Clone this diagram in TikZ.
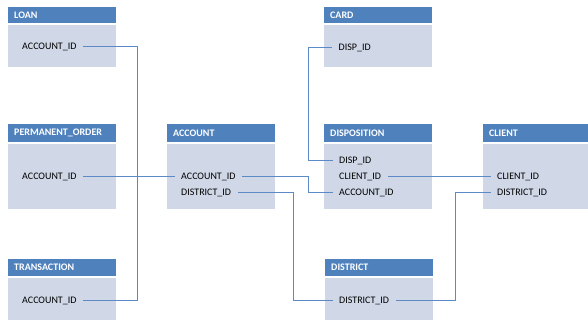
\documentclass[tikz,border=0pt]{standalone}
\usepackage{fontspec}
\setmainfont{Carlito}
\definecolor{hdr}{HTML}{4F81BD}
\definecolor{bodyc}{HTML}{D0D8E8}
\definecolor{wire}{HTML}{5B8AC6}

\begin{document}
\begin{tikzpicture}[x=1pt,y=-1pt,
  hdrbox/.style={fill=hdr, draw=none, anchor=north west, text=white,
    font=\fontsize{10}{12}\selectfont\bfseries, inner xsep=6pt, inner ysep=0pt,
    text width=#1-12pt, align=left},
  hdrbox/.default=108pt,
  bodybox/.style={fill=bodyc, draw=none, anchor=north west, inner sep=0pt},
  field/.style={anchor=west, inner xsep=6.5pt, inner ysep=1pt,
    font=\fontsize{10}{12}\selectfont},
  link/.style={draw=wire, line width=0.8pt}]
\useasboundingbox (0,0) rectangle (588,320);
\clip (0,0) rectangle (588,320);

% table bodies
\node[bodybox, minimum width=108pt, minimum height=42pt] (loanB)  at (8,25)   {};
\node[bodybox, minimum width=108pt, minimum height=65pt] (permB)  at (8,144)  {};
\node[bodybox, minimum width=108pt, minimum height=50pt] (transB) at (8,278)  {};
\node[bodybox, minimum width=108pt, minimum height=65pt] (accB)   at (167,144){};
\node[bodybox, minimum width=108pt, minimum height=42pt] (cardB)  at (324,25) {};
\node[bodybox, minimum width=108pt, minimum height=65pt] (dispB)  at (324,144){};
\node[bodybox, minimum width=108pt, minimum height=50pt] (distB)  at (325,278){};
\node[bodybox, minimum width=110pt, minimum height=65pt] (cliB)   at (483,144){};

% table headers
\node[hdrbox, minimum height=16pt] (loanH)  at (8,7)     {LOAN};
\node[hdrbox, minimum height=18pt] (permH)  at (8,124)   {PERMANENT\_ORDER};
\node[hdrbox, minimum height=17pt] (transH) at (8,259)   {TRANSACTION};
\node[hdrbox, minimum height=18pt] (accH)   at (167,124) {ACCOUNT};
\node[hdrbox, minimum height=16pt] (cardH)  at (324,7)   {CARD};
\node[hdrbox, minimum height=18pt] (dispH)  at (324,124) {DISPOSITION};
\node[hdrbox, minimum height=17pt] (distH)  at (325,259) {DISTRICT};
\node[hdrbox=110pt, minimum height=18pt] (cliH) at (483,124) {CLIENT};

% fields
\node[field] (loanAcc)  at (15.5,46.5)  {ACCOUNT\_ID};
\node[field] (permAcc)  at (15.5,176.5) {ACCOUNT\_ID};
\node[field] (transAcc) at (15.5,300.5) {ACCOUNT\_ID};
\node[field] (accAcc)   at (174.5,176.5) {ACCOUNT\_ID};
\node[field] (accDist)  at (174.5,192.5) {DISTRICT\_ID};
\node[field] (cardDisp) at (332,47.5)   {DISP\_ID};
\node[field] (dispDisp) at (332.5,160.5) {DISP\_ID};
\node[field] (dispCli)  at (332.5,176.5) {CLIENT\_ID};
\node[field] (dispAcc)  at (332.5,192.5) {ACCOUNT\_ID};
\node[field] (cliCli)   at (490.5,176.5) {CLIENT\_ID};
\node[field] (cliDist)  at (490.5,192.5) {DISTRICT\_ID};
\node[field] (distDist) at (332.5,300.5) {DISTRICT\_ID};

% routing columns
\coordinate (busL) at (137,176.5);
\coordinate (jA) at (308,0);
\coordinate (jB) at (293,0);
\coordinate (jC) at (455,0);

% connectors
\path[link] (loanAcc.east) -| (busL);
\path[link] (transAcc.east) -| (busL);
\path[link] (permAcc.east) -- (accAcc.west);
\path[link] (accAcc.east) -- (accAcc.east -| jA) |- (dispAcc.west);
\path[link] (cardDisp.west) -- (cardDisp.west -| jA) |- (dispDisp.west);
\path[link] (accDist.east) -- (accDist.east -| jB) |- (distDist.west);
\path[link] (cliDist.west) -- (cliDist.west -| jC) |- (distDist.east);
\path[link] (dispCli.east) -- (cliCli.west);
\end{tikzpicture}
\end{document}
